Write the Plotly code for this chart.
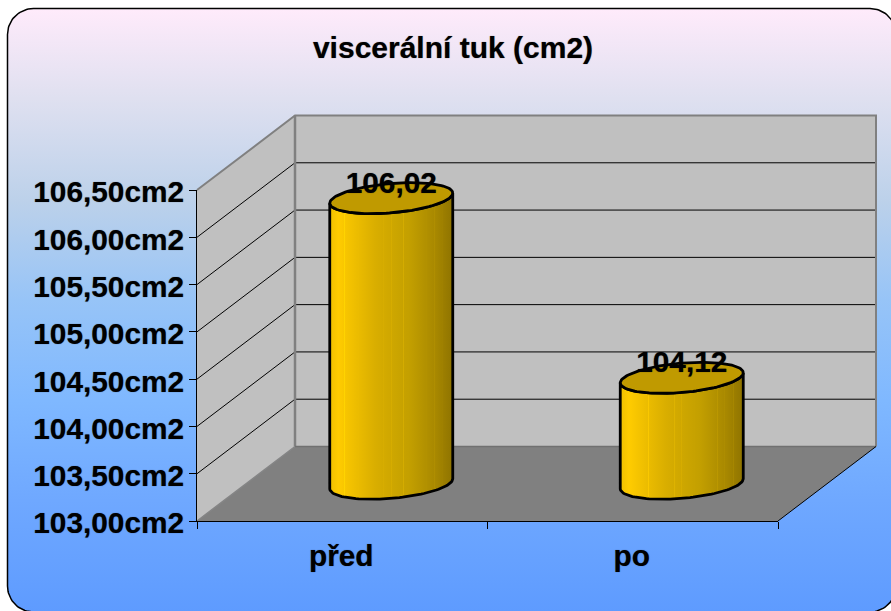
import numpy as np
import plotly.graph_objects as go

categories = ["před", "po"]
values = [106.02, 104.12]
value_labels = ["106,02", "104,12"]
y_ticks = [103.0, 103.5, 104.0, 104.5, 105.0, 105.5, 106.0, 106.5]
y_tick_labels = ["103,00cm2", "103,50cm2", "104,00cm2", "104,50cm2",
                 "105,00cm2", "105,50cm2", "106,00cm2", "106,50cm2"]
title = "viscerální tuk (cm2)"

W, H = 891, 611
L, R, T, B = 197, 778, 190, 521          # front plane of the plot, in pixels
X0, X1 = -0.5, 1.5
Y0, Y1 = y_ticks[0], y_ticks[-1]
PX = (R - L) / (X1 - X0)
PY = (B - T) / (Y1 - Y0)
DX, DY = 98 / PX, 74.5 / PY              # depth of the 3D box in axis units
FONT = "Liberation Sans, Arial, sans-serif"
FS = 29.8
HEAVY = "0 0 1px rgba(0,0,0,0.55)"


def to_x(p):
    return X0 + (np.asarray(p, float) - L) / PX


def to_y(p):
    return Y0 + (B - np.asarray(p, float)) / PY


fig = go.Figure()


def poly(xs, ys, **kw):
    kw.setdefault("mode", "lines")
    fig.add_trace(go.Scatter(x=list(xs), y=list(ys), cliponaxis=False,
                             hoverinfo="skip", showlegend=False, **kw))


# cylinder side shading: a smooth ramp with faint lighter facets
ramp_pos = [0.0, 0.07, 0.37, 0.64, 0.86, 1.0]
ramp_rgb = np.array([[240, 192, 0], [255, 204, 0], [217, 174, 0],
                     [196, 160, 0], [168, 136, 0], [143, 116, 0]], float)
facets = [0.12, 0.23, 0.44, 0.50, 0.60, 0.79, 0.85, 0.92]


def ramp_colour(f, lift=1.0):
    rgb = [min(255, np.interp(f, ramp_pos, ramp_rgb[:, k]) * lift) for k in range(3)]
    return "rgb(%d,%d,%d)" % tuple(rgb)


stops = sorted(set(ramp_pos) | set(facets) | {f - 0.004 for f in facets} | {f + 0.004 for f in facets})
side_scale = [[f, ramp_colour(f, 1.07 if f in facets else 1.0)] for f in stops]

# rounded chart background
rx0, ry0, rx1, ry1, rr = 7.5, 8.5, 896, 612, 26
a = np.linspace(0, np.pi / 2, 24)
bx = np.concatenate([rx0 + rr - rr * np.cos(a), rx1 - rr + rr * np.sin(a),
                     rx1 - rr + rr * np.cos(a), rx0 + rr - rr * np.sin(a), [rx0]])
by = np.concatenate([ry0 + rr - rr * np.sin(a), ry0 + rr - rr * np.cos(a),
                     ry1 - rr + rr * np.sin(a), ry1 - rr + rr * np.cos(a), [ry0 + rr]])
poly(to_x(bx), to_y(by), fill="toself", line=dict(color="#000000", width=1.5),
     fillgradient=dict(type="vertical", start=float(to_y(612)), stop=float(to_y(8)),
                       colorscale=[[0, "#5E9BFF"], [0.185, "#6FA8FF"], [0.35, "#7FB8FF"],
                                   [0.517, "#97C4F7"], [0.68, "#BCD1EA"], [0.85, "#DFE0F0"],
                                   [1, "#FFEBFB"]]))

# walls and floor
poly([X0, X0, X0 + DX, X0 + DX, X0], [Y0, Y1, Y1 + DY, Y0 + DY, Y0],
     fill="toself", fillcolor="#C0C0C0", line=dict(width=0))
poly([X0 + DX, X0 + DX, X1 + DX, X1 + DX, X0 + DX], [Y0 + DY, Y1 + DY, Y1 + DY, Y0 + DY, Y0 + DY],
     fill="toself", fillcolor="#C0C0C0", line=dict(width=0))
poly([X0, X0 + DX, X1 + DX, X1, X0], [Y0, Y0 + DY, Y0 + DY, Y0, Y0],
     fill="toself", fillcolor="#808080", line=dict(width=0))

# gridlines along the side and back walls
for t in y_ticks[1:-1]:
    poly([X0, X0 + DX, X1 + DX], [t, t + DY, t + DY], line=dict(color="#000000", width=1))

# box edges
poly([X0, X0 + DX, X1 + DX, X1 + DX], [Y1, Y1 + DY, Y1 + DY, Y0 + DY],
     line=dict(color="#808080", width=2))
poly([X0 + DX, X0 + DX], [Y1 + DY, Y0 + DY], line=dict(color="#808080", width=2.5))
poly([X0, X0 + DX], [Y0, Y0 + DY], line=dict(color="#858585", width=1.5))
poly([X0 + DX, X1 + DX], [Y0 + DY, Y0 + DY], line=dict(color="#707070", width=1.5))
poly([X1, X1 + DX], [Y0, Y0 + DY], line=dict(color="#000000", width=1))

# cylinders
RAD, SHEAR, SQUASH = 61.5, 20, 15.5      # ellipse shape in pixels
flat = np.sqrt(RAD ** 2 - SHEAR ** 2)
phi = np.arctan2(SHEAR, flat)
OUT = dict(color="#000000", width=2.8)
for i, v in enumerate(values):
    cx = i + DX / 2
    base = Y0 + DY / 2
    top = v + DY / 2
    t = np.linspace(phi + np.pi, phi + 2 * np.pi, 60)
    ex = (flat * np.cos(t) + SHEAR * np.sin(t)) / PX
    ey = SQUASH * np.sin(t) / PY
    poly(np.concatenate([cx + ex, (cx + ex)[::-1], [cx + ex[0]]]),
         np.concatenate([top + ey, (base + ey)[::-1], [top + ey[0]]]),
         fill="toself", line=OUT,
         fillgradient=dict(type="horizontal", start=cx - RAD / PX, stop=cx + RAD / PX,
                           colorscale=side_scale))
    t = np.linspace(0, 2 * np.pi, 120)
    poly(cx + (flat * np.cos(t) + SHEAR * np.sin(t)) / PX, top + SQUASH * np.sin(t) / PY,
         fill="toself", fillcolor="#C09A00", line=OUT)

# data labels
LABEL_UP = 13 / PY
fig.add_trace(go.Scatter(
    x=[i + DX / 2 for i in range(len(values))],
    y=[v + DY / 2 + LABEL_UP for v in values],
    mode="text", text=value_labels, textposition="middle center", cliponaxis=False,
    textfont=dict(family=FONT, size=FS, color="#000000", weight="bold", shadow=HEAVY),
    hoverinfo="skip", showlegend=False))

# invisible values on the tick axes, so those axes are drawn on top of the box
fig.add_trace(go.Scatter(x=[0, 1], y=values, xaxis="x2", yaxis="y2", mode="markers",
                         marker=dict(opacity=0, size=1), hoverinfo="skip", showlegend=False))

tick_font = dict(family=FONT, size=FS, color="#000000", weight="bold", shadow=HEAVY)
fig.update_layout(
    template="none",
    width=W, height=H, autosize=False,
    margin=dict(l=0, r=0, t=0, b=0, pad=0),
    paper_bgcolor="#FFFFFF", plot_bgcolor="rgba(0,0,0,0)",
    showlegend=False,
    font=dict(family=FONT, size=FS, color="#000000", weight="bold"),
    title=dict(text=title, x=453 / W, xref="container", xanchor="center",
               y=1 - 47 / H, yref="container", yanchor="middle",
               font=dict(family=FONT, size=30, color="#000000", weight="bold", shadow=HEAVY)),
    # full-canvas axes that carry the box and the cylinders, same scale as the tick axes
    xaxis=dict(domain=[0, 1], range=[float(to_x(0)), float(to_x(W))], visible=False,
               fixedrange=True, automargin=False),
    yaxis=dict(domain=[0, 1], range=[float(to_y(H)), float(to_y(0))], visible=False,
               fixedrange=True, automargin=False),
    # tick axes on the front plane of the box
    xaxis2=dict(domain=[L / W, R / W], anchor="y2", range=[X0, X1], tickmode="array",
                tickvals=[0, 1], ticktext=categories, ticks="", showgrid=False, zeroline=False,
                showline=True, linecolor="#000000", linewidth=1, ticklabelstandoff=8,
                ticklabelshift=-1, fixedrange=True, automargin=False, tickfont=tick_font,
                minor=dict(tickmode="array", tickvals=[-0.5, 0.5, 1.5], ticks="outside",
                           ticklen=7, tickwidth=1, tickcolor="#000000", showgrid=False)),
    yaxis2=dict(domain=[1 - B / H, 1 - T / H], anchor="x2", range=[Y0, Y1], tickmode="array",
                tickvals=y_ticks, ticktext=y_tick_labels, ticks="outside", ticklen=7, tickwidth=1,
                tickcolor="#000000", showgrid=False, zeroline=False, showline=True,
                linecolor="#000000", linewidth=1, fixedrange=True, automargin=False,
                ticklabelstandoff=-1, ticklabelshift=2, tickfont=tick_font),
)

fig.write_html("out.html", config=dict(displayModeBar=False),
               post_script="document.body.style.margin='0';")
